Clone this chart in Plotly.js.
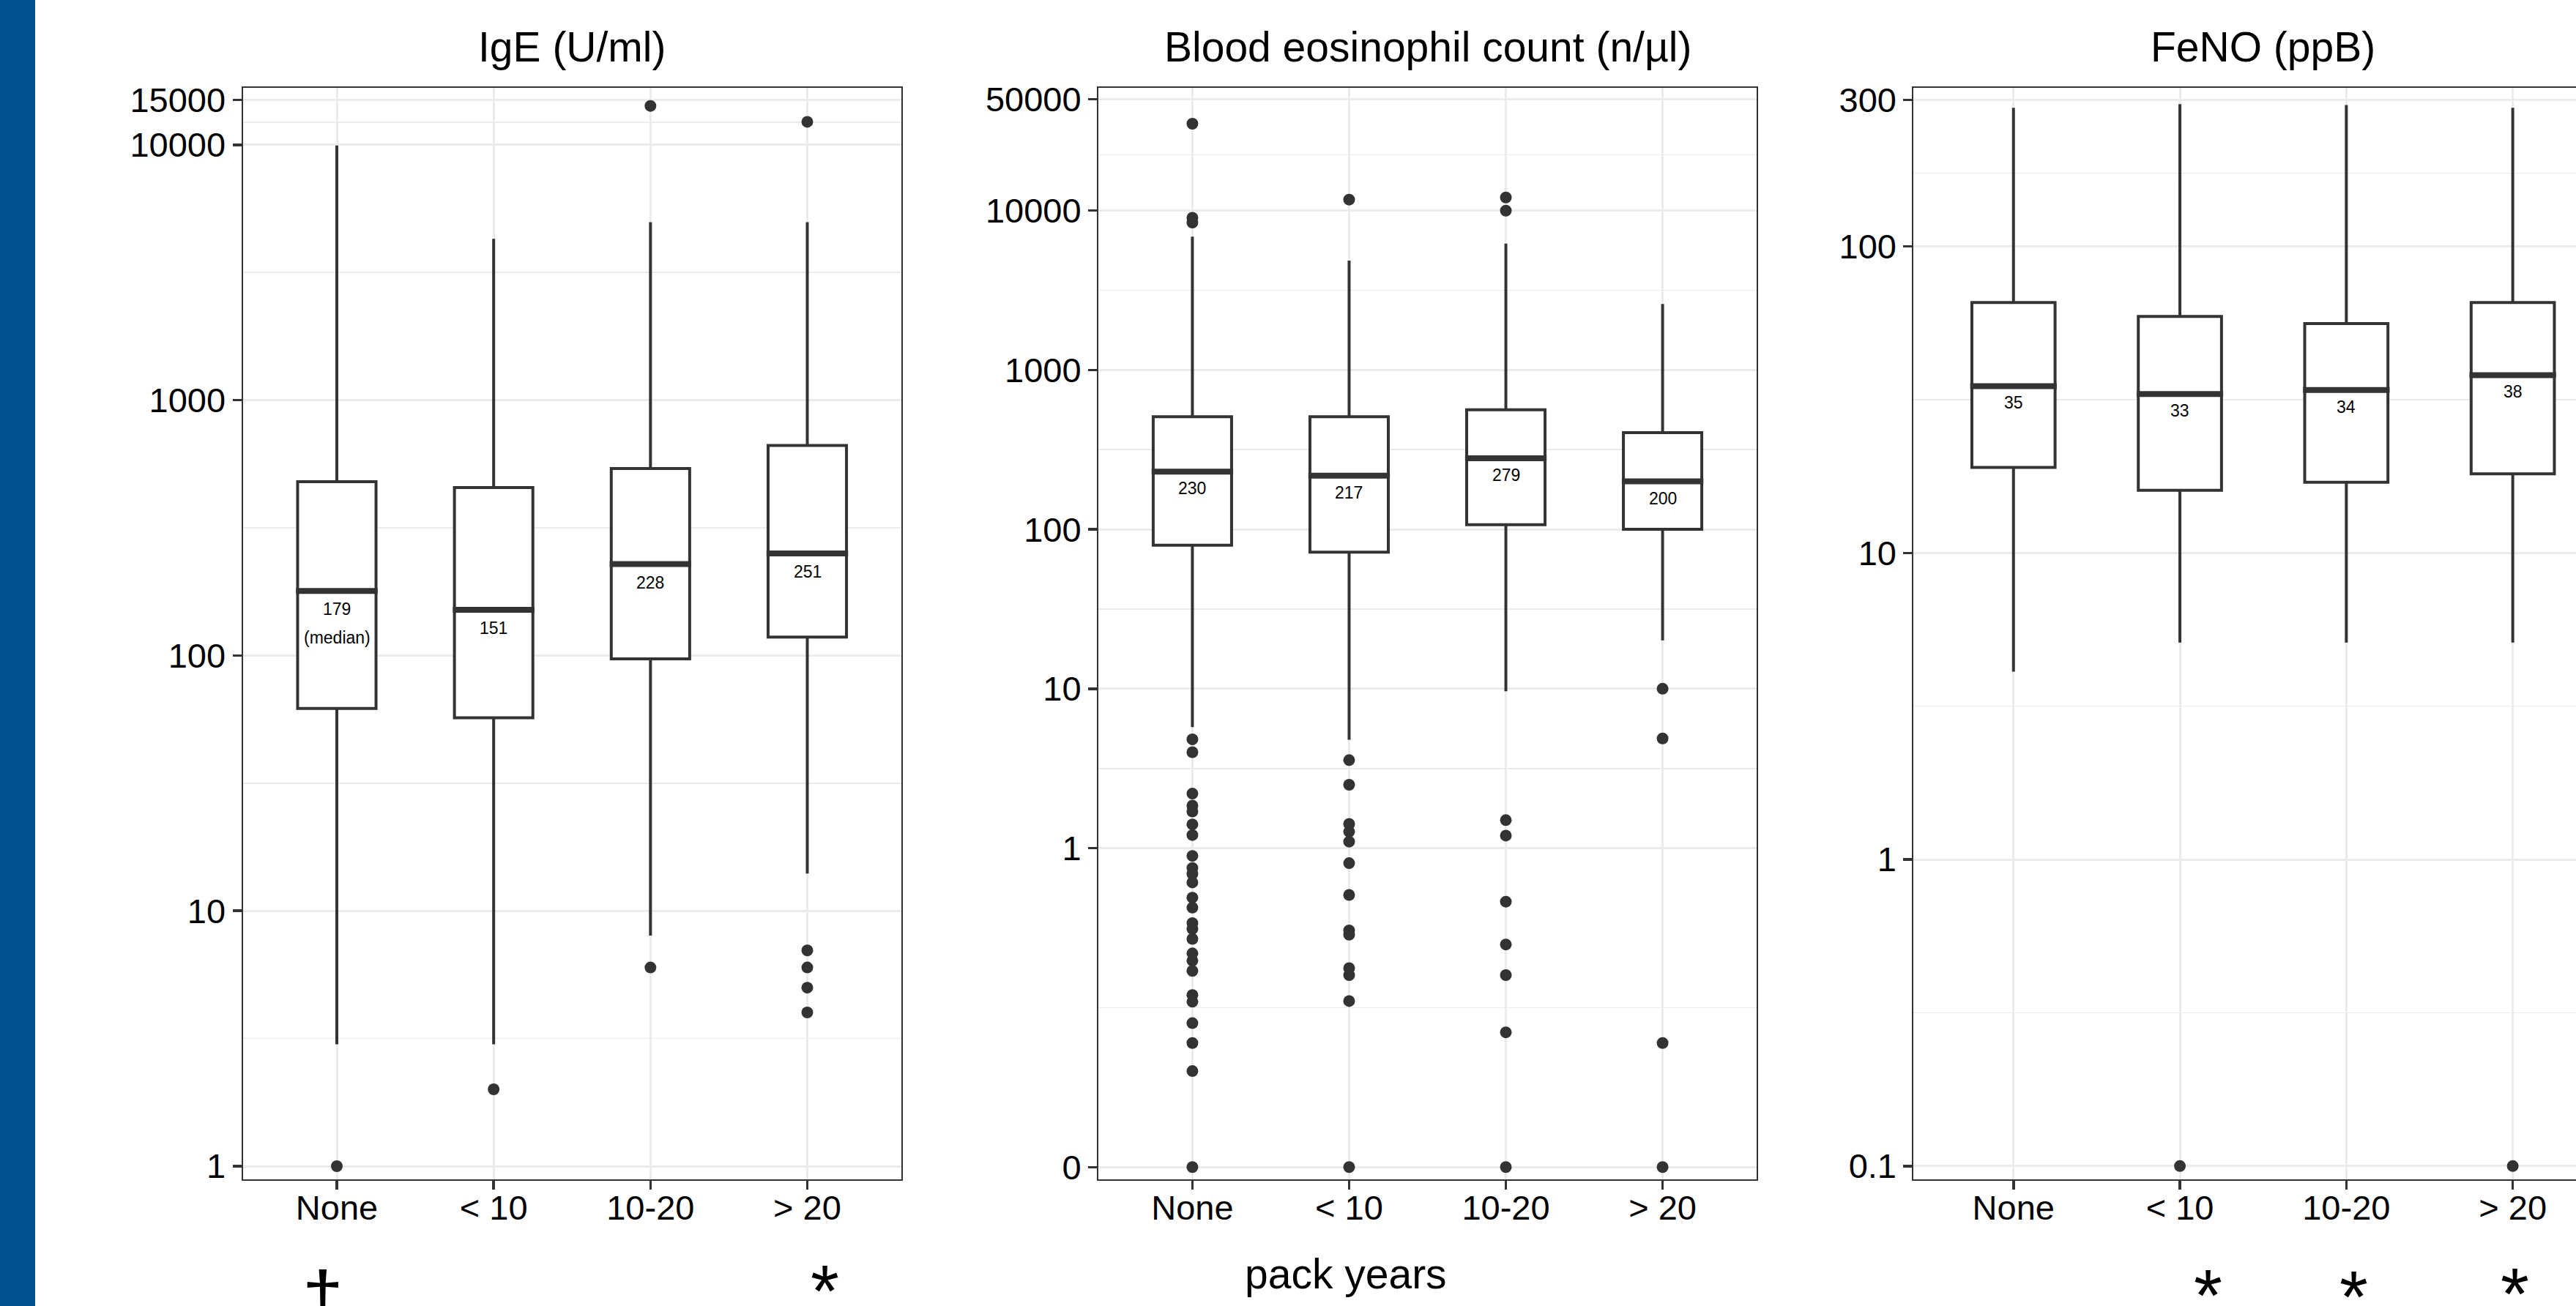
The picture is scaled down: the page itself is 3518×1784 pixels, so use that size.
<!DOCTYPE html>
<html>
<head>
<meta charset="utf-8">
<script src="https://cdn.plot.ly/plotly-3.0.1.min.js"></script>
<style>
html, body { margin: 0; padding: 0; overflow: hidden; background: #ffffff; }
#chart { width: 3518px; height: 1784px; }
</style>
</head>
<body>
<div id="chart"></div>
<script>
// ---------------- DATA ----------------
const categories = ['None', '< 10', '10-20', '> 20'];

const panelTitles = ['IgE (U/ml)', 'Blood eosinophil count (n/µl)', 'FeNO (ppB)'];
const xAxisLabel = 'pack years';
const medianNote = '(median)';

// IgE (U/ml)
const igeQ1 = [62, 57, 97, 118];
const igeMedian = [179, 151, 228, 251];
const igeQ3 = [479, 455, 540, 665];
const igeLowerWhisker = [3, 3, 8, 14];
const igeUpperWhisker = [9930, 4280, 4980, 4980];
const igeOutlierGroup = ['None', '< 10', '10-20', '10-20', '> 20', '> 20', '> 20', '> 20', '> 20'];
const igeOutlierValue = [1, 2, 6, 14200, 12300, 7, 6, 5, 4];
const igeTicks = [1, 10, 100, 1000, 10000, 15000];

// Blood eosinophil count (n/µl)
const eosQ1 = [79.6, 72, 107, 100];
const eosMedian = [230, 217, 279, 200];
const eosQ3 = [508, 508, 562, 404];
const eosLowerWhisker = [5.74, 4.79, 9.64, 20.1];
const eosUpperWhisker = [6850, 4850, 6190, 2590];
const eosOutlierNone = [35000, 9000, 8400, 4.82, 4.0, 2.2, 1.85, 1.70, 1.41, 1.21, 0.895, 0.751, 0.69, 0.61,
  0.49, 0.424, 0.339, 0.312, 0.27, 0.219, 0.197, 0.170, 0.120, 0.109, 0.080, 0.060, 0.040, 0];
const eosOutlierLt10 = [11700, 3.57, 2.5, 1.42, 1.27, 1.10, 0.806, 0.509, 0.305, 0.287, 0.177, 0.160, 0.110, 0];
const eosOutlier10to20 = [12060, 9970, 1.5, 1.2, 0.462, 0.249, 0.16, 0.07, 0];
const eosOutlierGt20 = [10, 4.88, 0.06, 0];
const eosTicks = [0, 1, 10, 100, 1000, 10000, 50000];

// FeNO (ppB)
const fenoQ1 = [19.0, 16.0, 17.0, 18.1];
const fenoMedian = [35, 33, 34, 38];
const fenoQ3 = [65.6, 59.1, 56.0, 65.6];
const fenoLowerWhisker = [4.1, 5.1, 5.1, 5.1];
const fenoUpperWhisker = [283, 291, 289, 283];
const fenoOutlierGroup = ['< 10', '> 20'];
const fenoOutlierValue = [0.1, 0.1];
const fenoTicks = [0.1, 1, 10, 100, 300];

// Significance marks under the panels
const markSymbols = ['\u2020', '*', '*', '*', '*'];

// ---------------- STYLE / LAYOUT ----------------
const W = 3518, H = 1784;
const FONT = 'Liberation Sans, Arial, Helvetica, sans-serif';
const DARK = '#333333';
const GRID = '#EBEBEB';
const BOX_W = 0.5;
const ZERO_AT = 0.01; // where a value of 0 is drawn on the log scale (labelled "0")
const plotY = v => (v === 0 ? ZERO_AT : v);
const esc = s => String(s).replace(/&/g, '&amp;').replace(/</g, '&lt;').replace(/>/g, '&gt;');
const idx = c => categories.indexOf(c);
const catIdx = categories.map((c, i) => i);

const panelTop = 120, panelBottom = 1610.8;
const yDomain = [(H - panelBottom) / H, (H - panelTop) / H];
const panels = [
  { x0: 331.5, x1: 1231, yRange: [-0.051, 4.223] },
  { x0: 1500, x1: 2399, yRange: [-2.076, 4.769] },
  { x0: 2613.4, x1: W, yRange: [-1.043, 2.517], xMax: 3.38 }
];

function geomMid(t) {
  const out = [];
  for (let i = 0; i < t.length - 1; i++) out.push(Math.sqrt(t[i] * t[i + 1]));
  return out;
}

function boxTrace(n, q1, med, q3, lo, hi) {
  return {
    type: 'box', xaxis: 'x' + n, yaxis: 'y' + n,
    x: catIdx, q1: q1, median: med, q3: q3, lowerfence: lo, upperfence: hi,
    width: BOX_W, whiskerwidth: 0, boxpoints: false,
    fillcolor: '#ffffff', line: { color: DARK, width: 4 },
    hoverinfo: 'skip', showlegend: false
  };
}
function medianTrace(n, med) {
  const x = [], y = [];
  med.forEach((m, i) => { x.push(i - BOX_W / 2 - 0.01, i + BOX_W / 2 + 0.01, null); y.push(m, m, null); });
  return { type: 'scatter', mode: 'lines', xaxis: 'x' + n, yaxis: 'y' + n, x: x, y: y,
    line: { color: DARK, width: 8 }, hoverinfo: 'skip', showlegend: false };
}
function outlierTrace(n, groups, values) {
  return { type: 'scatter', mode: 'markers', xaxis: 'x' + n, yaxis: 'y' + n,
    x: groups.map(idx), y: values.map(plotY),
    marker: { color: DARK, size: 16, line: { width: 0 } }, hoverinfo: 'skip', showlegend: false };
}

const eosGroups = [].concat(
  eosOutlierNone.map(() => 'None'), eosOutlierLt10.map(() => '< 10'),
  eosOutlier10to20.map(() => '10-20'), eosOutlierGt20.map(() => '> 20'));
const eosValues = [].concat(eosOutlierNone, eosOutlierLt10, eosOutlier10to20, eosOutlierGt20);

const data = [
  boxTrace(1, igeQ1, igeMedian, igeQ3, igeLowerWhisker, igeUpperWhisker),
  medianTrace(1, igeMedian),
  outlierTrace(1, igeOutlierGroup, igeOutlierValue),
  boxTrace(2, eosQ1, eosMedian, eosQ3, eosLowerWhisker, eosUpperWhisker),
  medianTrace(2, eosMedian),
  outlierTrace(2, eosGroups, eosValues),
  boxTrace(3, fenoQ1, fenoMedian, fenoQ3, fenoLowerWhisker, fenoUpperWhisker),
  medianTrace(3, fenoMedian),
  outlierTrace(3, fenoOutlierGroup, fenoOutlierValue)
];

const tickFont = { family: FONT, size: 47, color: '#000000' };
function xAxis(p, n) {
  return {
    domain: [p.x0 / W, p.x1 / W], anchor: 'y' + n,
    range: [-0.6, p.xMax !== undefined ? p.xMax : categories.length - 0.4],
    tickmode: 'array', tickvals: catIdx, ticktext: categories.map(esc),
    showgrid: true, gridcolor: GRID, gridwidth: 3, zeroline: false,
    ticks: 'outside', ticklen: 12, tickwidth: 3.5, tickcolor: DARK,
    ticklabelstandoff: -15,
    showline: true, linecolor: DARK, linewidth: 2, mirror: true,
    tickfont: tickFont, fixedrange: true
  };
}
function yAxis(p, n, ticks, mirror) {
  const tv = ticks.map(plotY);
  return {
    type: 'log', domain: yDomain, anchor: 'x' + n, range: p.yRange,
    tickmode: 'array', tickvals: tv, ticktext: ticks.map(String),
    showgrid: true, gridcolor: GRID, gridwidth: 3, zeroline: false,
    minor: { tickmode: 'array', tickvals: geomMid(tv), showgrid: true, gridcolor: GRID, gridwidth: 1.6, ticks: '' },
    ticks: 'outside', ticklen: 12, tickwidth: 3.5, tickcolor: DARK,
    showline: true, linecolor: DARK, linewidth: 2, mirror: mirror,
    tickfont: tickFont, fixedrange: true
  };
}

const annotations = [];
// panel titles
panelTitles.forEach((t, k) => {
  annotations.push({ xref: 'x' + (k + 1), yref: 'paper', x: (categories.length - 1) / 2, y: 1 - 64 / H,
    xanchor: 'center', yanchor: 'middle', showarrow: false, text: esc(t),
    font: { family: FONT, size: 57, color: '#000000' } });
});
// median labels
[[igeMedian, 1, -25], [eosMedian, 2, -23], [fenoMedian, 3, -23]].forEach(([meds, n, sh]) => {
  meds.forEach((m, i) => {
    annotations.push({ xref: 'x' + n, yref: 'y' + n, x: i, y: Math.log10(m), yshift: sh,
      xanchor: 'center', yanchor: 'middle', showarrow: false, text: String(m),
      font: { family: FONT, size: 23, color: '#000000' } });
  });
});
annotations.push({ xref: 'x1', yref: 'y1', x: 0, y: Math.log10(igeMedian[0]), yshift: -63.6,
  xanchor: 'center', yanchor: 'middle', showarrow: false, text: medianNote,
  font: { family: FONT, size: 23, color: '#000000' } });
// x axis label
annotations.push({ xref: 'paper', yref: 'paper', x: 1838 / W, y: 1 - 1740 / H,
  xanchor: 'center', yanchor: 'middle', showarrow: false, text: xAxisLabel,
  font: { family: FONT, size: 57, color: '#000000' } });
// significance marks
const markPos = [[441, 1714], [1126, 1705], [3015, 1711], [3214, 1713], [3434, 1709]];
markSymbols.forEach((s, k) => {
  annotations.push({ xref: 'paper', yref: 'paper', x: markPos[k][0] / W, y: 1 - markPos[k][1] / H,
    xanchor: 'center', yanchor: 'top', showarrow: false, text: s,
    font: { family: FONT, size: 100, color: '#000000' } });
});

const layout = {
  width: W, height: H,
  margin: { l: 0, r: 0, t: 0, b: 0, pad: 0 },
  paper_bgcolor: '#ffffff', plot_bgcolor: '#ffffff',
  showlegend: false,
  xaxis1: xAxis(panels[0], 1), yaxis1: yAxis(panels[0], 1, igeTicks, true),
  xaxis2: xAxis(panels[1], 2), yaxis2: yAxis(panels[1], 2, eosTicks, true),
  xaxis3: xAxis(panels[2], 3), yaxis3: yAxis(panels[2], 3, fenoTicks, false),
  annotations: annotations,
  shapes: [
    { type: 'rect', xref: 'paper', yref: 'paper', x0: 0, x1: 48 / W, y0: 0, y1: 1,
      fillcolor: '#00518f', line: { width: 0 } }
  ]
};

Plotly.newPlot('chart', data, layout, { staticPlot: true, displayModeBar: false });
</script>
</body>
</html>
